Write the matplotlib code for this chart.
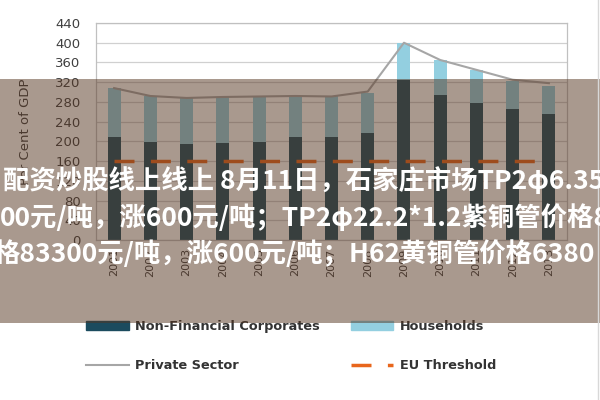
import matplotlib
matplotlib.use("Agg")
import matplotlib.pyplot as plt
from matplotlib.patches import Rectangle, Patch
from matplotlib.lines import Line2D
import numpy as np

plt.rcParams['lines.scale_dashes'] = False

years = ["2001", "2002", "2003", "2004", "2005", "2006", "2007",
         "2008", "2009", "2010", "2011", "2012", "2013"]
non_financial = [209, 199, 195, 197, 199, 209, 209, 217, 325, 294, 278, 266, 255]
households = [99, 93, 93, 93, 92, 83, 82, 82, 75, 71, 67, 57, 58]
private_sector = [308, 292, 288, 290, 291, 292, 291, 301, 400, 365, 345, 325, 318]
eu_threshold = [160] * 13
yticks = list(range(0, 441, 40))

banner_lines = [
    "配资炒股线上线上 8月11日，石家庄市场TP2φ6.35",
    "00元/吨，涨600元/吨；TP2φ22.2*1.2紫铜管价格8",
    "格83300元/吨，涨600元/吨；H62黄铜管价格6380",
]

c_nfc = "#1b4b5e"
c_hh = "#93cfe0"
c_ps = "#a6a6a6"
c_eu = "#e8661c"

fig = plt.figure(figsize=(6, 4), dpi=100)
ax = fig.add_axes([96/600, 1-240/400, (567-96)/600, (240-23)/400])

x = np.arange(len(years))
w = 0.36
ax.bar(x, non_financial, w, color=c_nfc, zorder=2)
ax.bar(x, households, w, bottom=non_financial, color=c_hh, zorder=2)
ax.plot(x, private_sector, color=c_ps, lw=1.5, zorder=3)
ax.plot(x, eu_threshold, color=c_eu, lw=2.5, zorder=3,
        dashes=(14.4, 11.8), solid_capstyle='butt', dash_capstyle='butt')

ax.set_xlim(-0.5, len(years) - 0.5)
ax.set_ylim(0, 440)
ax.set_yticks(yticks)
ax.set_yticklabels([str(v) for v in yticks], fontsize=9.5, color="#404040")
ax.set_xticks(x)
ax.set_xticklabels(years, rotation=90, fontsize=8, color="#404040")
ax.tick_params(axis="y", length=0, pad=11)
ax.tick_params(axis="x", length=0, pad=6)
ax.yaxis.grid(True, color="#d0d0d0", lw=0.9, zorder=0)
ax.set_axisbelow(True)
for s in ax.spines.values():
    s.set_color("#c0c0c0")
    s.set_linewidth(0.9)
ax.set_ylabel("Per Cent of GDP", fontsize=9.5, color="#404040", labelpad=17)

handles = [
    Patch(color=c_nfc),
    Line2D([0], [0], color=c_ps, lw=1.5),
    Patch(color=c_hh),
    Line2D([0], [0], color=c_eu, lw=2.5, dashes=(14.4, 11.8)),
]
labels = ["Non-Financial Corporates", "Private Sector", "Households", "EU Threshold"]
fig.legend(handles, labels, ncol=2, loc="upper left", bbox_to_anchor=(86/600, 0.20),
           frameon=False, borderpad=0, borderaxespad=0, handlelength=3.3,
           handleheight=0.6, handletextpad=0.5, columnspacing=2.4, labelspacing=2.05,
           prop={"weight": "bold", "size": 9.3}, labelcolor="#333333")

# semi-transparent banner overlay
fig.patches.append(Rectangle((0, 1-323/400), 1, (323-79)/400, transform=fig.transFigure,
                             facecolor="#55341f", alpha=0.5, edgecolor="none", zorder=10))
fig.add_artist(Line2D([598/600, 598/600], [0, 1], transform=fig.transFigure,
                      color="#d8d8d8", lw=1, zorder=11))

banner_x = [3/600, 0/600, -7/600]
banner_y = [1-181/400, 1-218/400, 1-254/400]
for t, bx, by in zip(banner_lines, banner_x, banner_y):
    fig.text(bx, by, t, color="white", fontsize=19.0, fontweight="bold",
             family=["Noto Sans CJK SC", "DejaVu Sans"], va="center", ha="left", zorder=12)

fig.savefig("out.png", dpi=100)
